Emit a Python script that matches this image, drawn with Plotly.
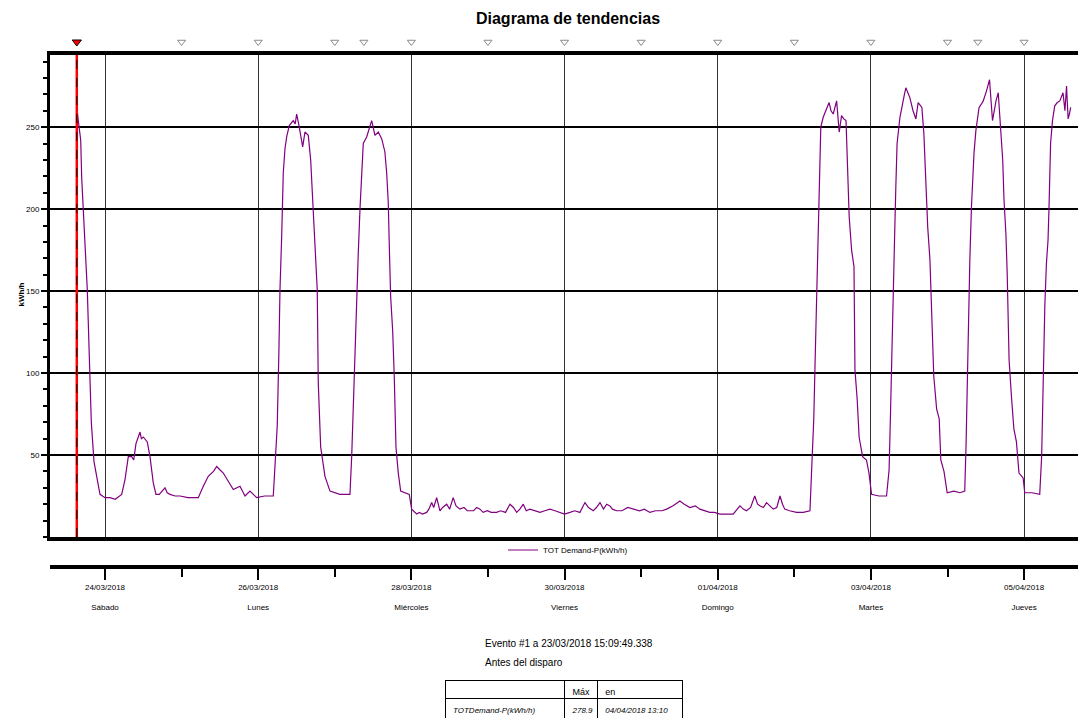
import pandas as pd
import plotly.graph_objects as go

# ---------------- data ----------------
BASE_DATE = "2018-03-24 00:00"
# hours since 24/03/2018 00:00 and demand values (kWh/h)
HOURS = [
    -8.83, -8.7, -8.37, -7.61, -7.30, -6.80, -6.17, -5.55, -5.23, -4.70, -4.29, -3.45, -2.60, -1.57,
    0.0, 1.57, 3.2, 5.23, 6.27, 7.30, 8.37, 9.0, 9.71, 10.97, 11.4, 12.0, 13.25, 14.1, 15.13, 15.98,
    17.0, 18.8, 19.5, 20.37, 22.0, 23.5, 26.0, 29.23, 30.8, 32.36, 34.0, 35.0, 36.0, 37.06, 38.63,
    40.2, 42.3, 43.87, 45.43, 47.53, 50.0, 52.73, 53.26, 53.98, 54.5, 54.83, 55.36, 55.86, 56.4,
    56.93, 57.74, 59.0, 59.6, 60.06, 60.88, 61.94, 62.66, 63.7, 64.45, 65.26, 66.1, 66.5, 66.83,
    67.58, 68.93, 70.5, 73.6, 76.76, 77.3, 77.8, 78.33, 78.86, 79.36, 79.9, 80.43, 80.93, 82.0,
    82.8, 83.56, 84.6, 85.63, 86.7, 87.7, 88.27, 88.76, 89.07, 89.5, 90.14, 90.64, 91.17, 91.9,
    92.65, 95.34, 96.09, 97.66, 98.5, 99.5, 100.8, 101.5, 102.36, 103.0, 103.92, 104.96, 105.8,
    107.06, 108.0, 109.1, 110.0, 111.2, 112.5, 113.5, 114.4, 115.5, 116.46, 117.5, 118.5, 119.8,
    121.0, 122.7, 124.0, 125.5, 126.9, 128.0, 129.0, 130.0, 131.06, 132.0, 133.15, 134.5, 136.3,
    137.8, 139.4, 141.0, 142.5, 144.0, 145.7, 147.2, 148.8, 150.4, 151.5, 153.0, 154.0, 155.1,
    156.2, 157.2, 158.2, 159.0, 160.3, 162.0, 163.8, 165.5, 167.5, 169.0, 170.75, 172.5, 174.5,
    176.0, 178.0, 180.15, 181.5, 183.3, 185.0, 186.4, 188.0, 189.5, 191.0, 192.7, 194.5, 196.85,
    198.95, 200.0, 201.0, 202.3, 203.6, 204.5, 205.2, 206.3, 207.3, 208.3, 209.4, 210.5, 211.5,
    212.3, 213.0, 214.5, 216.7, 218.8, 220.9,
    221.6, 222.1, 222.5, 223.0, 223.5, 223.8, 224.3, 225.05, 226.0, 226.9, 227.5, 228.2, 229.25,
    230.07, 230.8, 231.5, 232.2, 232.6, 233.2, 233.95, 234.7, 235.0, 235.7, 236.3, 237.4, 238.6,
    239.4, 240.2, 242.5, 244.9, 245.7, 246.1, 246.6, 247.0, 247.4, 247.8, 248.2, 249.1, 249.9,
    250.5, 250.96, 251.6, 252.2, 253.2, 254.1, 254.8, 255.4, 255.97, 256.6, 257.1, 257.8, 258.5,
    259.0, 259.7, 260.6, 261.4, 261.9, 262.9, 263.9, 266.0, 267.9, 269.4, 269.8, 270.2, 270.6,
    271.0, 271.5, 272.3, 272.9, 273.9, 274.6, 275.2, 276.2, 277.17, 278.1, 278.7, 279.2, 279.9,
    280.6, 281.3, 281.7, 282.3, 282.7, 283.3, 284.1, 284.8, 285.6, 286.4, 287.7, 288.2, 290.5,
    292.9, 293.5, 294.0, 294.5, 295.0, 295.5, 295.8, 296.3, 296.9, 297.6, 298.4, 299.2, 300.2,
    300.8, 301.3, 301.8, 302.2, 302.6,
]
DEMAND = [
    255, 260, 254, 242, 219, 195, 175, 151, 126, 100, 70, 46, 37, 26,
    24, 24, 23, 26, 35, 49, 49, 47, 57, 64, 60, 61, 58, 49, 33, 26,
    26, 30, 27, 26, 25, 25, 24, 24, 31, 37, 40, 43, 41, 39, 34,
    29, 31, 25, 28, 24, 25, 25, 43, 68, 114, 151, 183, 222, 237,
    244, 251, 254, 252, 258, 250, 238, 247, 245, 230, 198, 173, 151, 94,
    55, 37, 28, 26, 26, 49, 82, 114, 143, 173, 200, 226, 240, 244,
    250, 254, 245, 247, 243, 235, 222, 204, 179, 147, 126, 98, 55, 39,
    28, 26, 17, 14, 15, 14, 15, 17, 21, 18, 24, 16, 18,
    20, 17, 24, 19, 17, 18, 16, 16, 16, 18, 17, 15, 16,
    15, 15, 16, 15, 20, 18, 15, 17, 20, 16, 17, 16, 15,
    16, 17, 16, 15, 14, 15, 16, 15, 21, 18, 16, 18, 21,
    17, 20, 19, 17, 16, 16, 18, 17, 16, 17, 15, 16, 16,
    17, 19, 22, 20, 18, 19, 17, 16, 15, 15, 14, 14, 14,
    19, 17, 16, 18, 25, 20, 19, 18, 21, 19, 17, 18, 25,
    20, 17, 16, 15, 15, 16,
    49, 72, 106, 147, 187, 224, 250, 256, 261, 265, 260, 258, 266,
    247, 257, 255, 254, 226, 195, 175, 165, 102, 84, 61, 49, 47,
    39, 26, 25, 25, 41, 72, 108, 149, 181, 213, 240, 256, 265,
    270, 274, 271, 268, 260, 255, 265, 263, 262, 246, 220, 189, 169,
    133, 98, 78, 72, 47, 40, 27, 28, 27, 28, 55, 98, 137,
    169, 201, 234, 248, 262, 264, 266, 272, 278.9, 254, 262, 266, 271,
    252, 230, 206, 185, 161, 108, 84, 66, 58, 39, 36, 27, 27,
    26, 49, 96, 141, 167, 181, 200, 240, 254, 263, 265, 266, 271,
    260, 275, 255, 258, 262,
]
SERIES_NAME = "TOT Demand-P(kWh/h)"

EVENT_TIME = "2018-03-23 15:09:49"
MARKER_TIMES = [
    "2018-03-25 00:00", "2018-03-26 00:00", "2018-03-27 00:00", "2018-03-27 09:07",
    "2018-03-28 00:00", "2018-03-29 00:00", "2018-03-30 00:00", "2018-03-31 00:00",
    "2018-04-01 00:00", "2018-04-02 00:00", "2018-04-03 00:00", "2018-04-04 00:00",
    "2018-04-04 09:30", "2018-04-05 00:00",
]

TICK_DATES = ["2018-03-24", "2018-03-26", "2018-03-28", "2018-03-30",
              "2018-04-01", "2018-04-03", "2018-04-05"]
TICK_LABELS = ["24/03/2018", "26/03/2018", "28/03/2018", "30/03/2018",
               "01/04/2018", "03/04/2018", "05/04/2018"]
TICK_DAYS = ["Sábado", "Lunes", "Miércoles", "Viernes", "Domingo", "Martes", "Jueves"]
MINOR_DATES = ["2018-03-25", "2018-03-27", "2018-03-29", "2018-03-31",
               "2018-04-02", "2018-04-04"]

Y_TICKS = [50, 100, 150, 200, 250]
X_RANGE = ["2018-03-23 06:46", "2018-04-05 19:24"]
Y_RANGE = [0, 294]

TABLE_HEADER = ["", "Máx", "en"]
TABLE_ROW = ["TOTDemand-P(kWh/h)", "278.9", "04/04/2018 13:10"]
EVENT_TEXT = "Evento #1 a 23/03/2018 15:09:49.338"
EVENT_SUB = "Antes del disparo"

# ---------------- figure ----------------
FONT = "Liberation Sans Narrow, Liberation Sans, Arial, sans-serif"
PURPLE = "#800080"

series = pd.DataFrame({
    "t": pd.Timestamp(BASE_DATE) + pd.to_timedelta(HOURS, unit="h"),
    "v": DEMAND,
}).sort_values("t")

# page body adds an 8px offset; the figure is laid out in reference pixels minus it
OFF = 8
REF_W, REF_H = 1086, 719
W, H = REF_W - OFF, REF_H - OFF
PAPER_TOP_REF = 30
PLOT_LEFT_REF = 50
PH = REF_H - PAPER_TOP_REF
PW = REF_W - PLOT_LEFT_REF


def py(pix):
    return (REF_H - pix) / PH


def px(pix):
    return (pix - PLOT_LEFT_REF) / PW


fig = go.Figure()

fig.add_trace(go.Scatter(
    x=series["t"], y=series["v"], mode="lines", name=SERIES_NAME,
    line=dict(color=PURPLE, width=1.2),
))

# invisible copy to activate the detached date axis
fig.add_trace(go.Scatter(
    x=series["t"], y=series["v"], mode="lines", xaxis="x2", showlegend=False,
    line=dict(color="rgba(0,0,0,0)", width=0), hoverinfo="skip",
))

# event markers strip above the plot (on the grid-less date axis)
fig.add_trace(go.Scatter(
    x=MARKER_TIMES, y=[0.5] * len(MARKER_TIMES), mode="markers",
    xaxis="x2", yaxis="y3",
    marker=dict(symbol="triangle-down", size=7, color="white",
                line=dict(color="#8a8a8a", width=1)),
    cliponaxis=False, showlegend=False, hoverinfo="skip",
))
fig.add_trace(go.Scatter(
    x=[EVENT_TIME], y=[0.5], mode="markers", xaxis="x2", yaxis="y3",
    marker=dict(symbol="triangle-down", size=8, color="red",
                line=dict(color="black", width=1)),
    cliponaxis=False, showlegend=False, hoverinfo="skip",
))

# event line (red with black dashes)
fig.add_shape(type="line", xref="x", yref="y", x0=EVENT_TIME, x1=EVENT_TIME,
              y0=Y_RANGE[0], y1=Y_RANGE[1], line=dict(color="red", width=2.5))
fig.add_shape(type="line", xref="x", yref="y", x0=EVENT_TIME, x1=EVENT_TIME,
              y0=Y_RANGE[0], y1=Y_RANGE[1], line=dict(color="black", width=1, dash="dash"))

# table
fig.add_trace(go.Table(
    domain=dict(x=[px(445), px(683)], y=[py(718), py(680)]),
    columnwidth=[120, 33, 85],
    header=dict(values=TABLE_HEADER, align="left", height=18,
                line=dict(color="black", width=1), fill=dict(color="white"),
                font=dict(family=FONT, size=9, color="black")),
    cells=dict(values=[["<i>%s</i>" % v] for v in TABLE_ROW], align="left", height=18,
               line=dict(color="black", width=1), fill=dict(color="white"),
               font=dict(family=FONT, size=8, color="black")),
))

fig.update_layout(
    width=W, height=H,
    margin=dict(l=PLOT_LEFT_REF - OFF, r=0, t=PAPER_TOP_REF - OFF, b=0),
    paper_bgcolor="white", plot_bgcolor="white",
    font=dict(family=FONT, size=9, color="black"),
    title=dict(text="Diagrama de tendencias", x=0.5, xref="paper", xanchor="center",
               y=1 - (18 - OFF) / H, yref="container", yanchor="middle",
               font=dict(family=FONT, size=16, color="black", weight="bold")),
    showlegend=True,
    legend=dict(orientation="h", x=0.5, xanchor="center", y=py(550), yanchor="middle",
                font=dict(family=FONT, size=8, color="black"), bgcolor="rgba(0,0,0,0)"),
    xaxis=dict(
        type="date", range=X_RANGE, showticklabels=False, ticks="",
        tickvals=TICK_DATES, showgrid=True, gridcolor="#333333", gridwidth=1,
        showline=True, linecolor="black", linewidth=4, mirror=True, zeroline=False,
    ),
    xaxis2=dict(
        type="date", range=X_RANGE, overlaying="x", anchor="free", position=py(567),
        side="bottom", showline=True, linecolor="black", linewidth=4,
        tickvals=TICK_DATES,
        ticktext=["%s<br><br>%s" % (d, n) for d, n in zip(TICK_LABELS, TICK_DAYS)],
        ticks="outside", ticklen=11, tickwidth=1.5, tickcolor="black",
        tickfont=dict(family=FONT, size=8, color="black"),
        minor=dict(tickvals=MINOR_DATES, ticks="outside", ticklen=8, tickwidth=1.5,
                   tickcolor="black", showgrid=False),
        showgrid=False, zeroline=False,
    ),
    yaxis=dict(
        domain=[py(537), py(55)], range=Y_RANGE, tickvals=Y_TICKS,
        ticks="outside", ticklen=6, tickwidth=1.5, tickcolor="black",
        tickfont=dict(family=FONT, size=8, color="black"),
        showgrid=True, gridcolor="black", gridwidth=2,
        showline=True, linecolor="black", linewidth=3, mirror=False, zeroline=False,
        minor=dict(dtick=10, ticks="outside", ticklen=4, tickwidth=1.5,
                   tickcolor="black", showgrid=False),
    ),
    yaxis3=dict(
        domain=[py(50), py(34)], range=[0, 1], anchor="x2", visible=False,
        showgrid=False, fixedrange=True,
    ),
    annotations=[
        dict(text="<b>kWh/h</b>", textangle=-90, xref="paper", yref="paper",
             x=px(14), y=py(295), showarrow=False, font=dict(family=FONT, size=8)),
        dict(text=EVENT_TEXT, xref="paper", yref="paper", x=px(483), y=py(643),
             xanchor="left", yanchor="middle", showarrow=False,
             font=dict(family=FONT, size=10)),
        dict(text=EVENT_SUB, xref="paper", yref="paper", x=px(483), y=py(662),
             xanchor="left", yanchor="middle", showarrow=False,
             font=dict(family=FONT, size=10)),
    ],
)

fig.write_html("out.html")
